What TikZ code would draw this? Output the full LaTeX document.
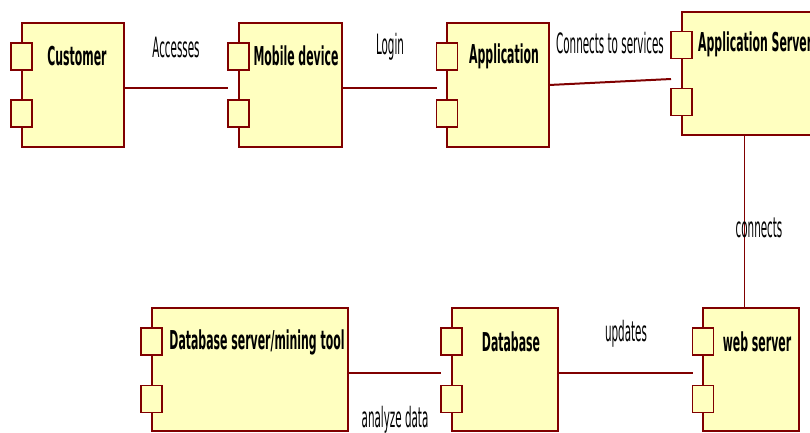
\documentclass[tikz,border=0pt]{standalone}
\usepackage{fontspec}
\newfontfamily\namefont[FakeStretch=0.42]{DejaVu Sans}
\newfontfamily\labfont[FakeStretch=0.37]{DejaVu Sans}
\definecolor{dred}{RGB}{128,0,0}
\definecolor{cyel}{RGB}{255,255,192}
\tikzset{
  comp/.style={draw=dred, fill=cyel, line width=1.4pt, inner sep=0pt, outer sep=0pt, minimum height=124pt},
  port/.style={draw=dred, fill=cyel, line width=1.6pt, inner sep=0pt, outer sep=0pt, minimum width=21pt, minimum height=27pt},
  cname/.style={font=\namefont\bfseries\fontsize{26}{28}\selectfont, inner sep=0pt, text=black},
  clabel/.style={font=\labfont\fontsize{28}{30}\selectfont, inner sep=0pt, text=black},
  conn/.style={draw=dred, line width=2pt},
  vconn/.style={draw=dred, line width=1pt}
}
\begin{document}
\begin{tikzpicture}[x=1pt,y=-1pt]
\useasboundingbox (0,0) rectangle (810,432);
\clip (0,0) rectangle (810,432);
\fill[white] (0,0) rectangle (810,432);
% components
\node[comp, minimum width=102pt] (cust) at (73,85) {};
\node[port] (custp1) at (21.5,56.5) {};
\node[port] (custp2) at (21.5,113.5) {};
\node[cname] (custn) at (77,56) {Customer};

\node[comp, minimum width=103pt] (mob) at (290.5,85) {};
\node[port] (mobp1) at (238.5,56.5) {};
\node[port] (mobp2) at (238.5,113.5) {};
\node[cname] (mobn) at (296,56) {Mobile device};

\node[comp, minimum width=102pt] (app) at (498,85) {};
\node[port] (appp1) at (447,56.5) {};
\node[port] (appp2) at (447,113.5) {};
\node[cname] (appn) at (504,56) {Application};

\node[comp, minimum width=148pt, minimum height=123pt] (asv) at (756,73.5) {};
\node[port] (asvp1) at (681.5,45) {};
\node[port] (asvp2) at (681.5,102) {};
\node[cname, anchor=west] (asvn) at (698,44) {Application Server};

\node[comp, minimum width=96pt, minimum height=123pt] (web) at (751,369.5) {};
\node[port] (webp1) at (703,341.5) {};
\node[port] (webp2) at (703,399) {};
\node[cname] (webn) at (757,342) {web server};

\node[comp, minimum width=106pt, minimum height=123pt] (db) at (505,369.5) {};
\node[port] (dbp1) at (451.5,341.5) {};
\node[port] (dbp2) at (451.5,399) {};
\node[cname] (dbn) at (511,342) {Database};

\node[comp, minimum width=196pt, minimum height=123pt] (dbs) at (250,369.5) {};
\node[port] (dbsp1) at (151.5,341.5) {};
\node[port] (dbsp2) at (151.5,399) {};
\node[cname] (dbsn) at (257,342) {Database server/mining tool};

% connectors
\draw[conn] (cust.east |- 0,88) -- (mobp1.west |- 0,88);
\draw[conn] (mob.east |- 0,88) -- (appp1.west |- 0,88);
\draw[conn] (app.east |- 0,85) -- (asvp1.west |- 0,79);
\draw[vconn] (744,0 |- asv.south) -- (744,0 |- web.north);
\draw[conn] (db.east |- 0,373) -- (webp1.west |- 0,373);
\draw[conn] (dbs.east |- 0,373) -- (dbp1.west |- 0,373);

% labels
\node[clabel] (l1) at (176,47) {Accesses};
\node[clabel] (l2) at (390,47) {Login};
\node[clabel] (l3) at (610,43) {Connects to services};
\node[clabel] (l4) at (759,228) {connects};
\node[clabel] (l5) at (626,334) {updates};
\node[clabel] (l6) at (395,420) {analyze data};
\end{tikzpicture}
\end{document}
